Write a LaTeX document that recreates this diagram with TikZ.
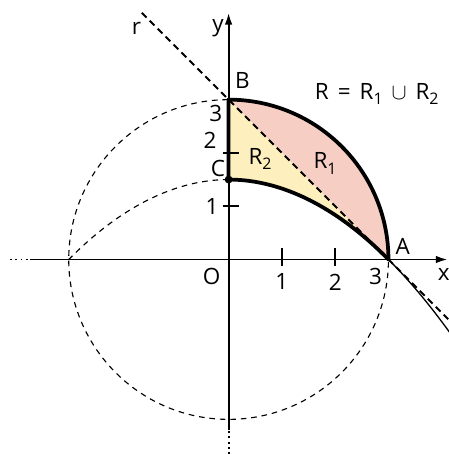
\documentclass[tikz,border=0pt]{standalone}
\usepackage{fontspec}
\setmainfont{Open Sans}
\usetikzlibrary{arrows.meta}
\definecolor{regionpink}{HTML}{F6CEC4}
\definecolor{regionyellow}{HTML}{FDF0BE}
\newcommand{\lowsub}[1]{\raisebox{-0.45ex}{\fontsize{8.5}{9}\selectfont #1}}
\newcommand{\opgap}{\hspace{0.4em}}

\begin{document}
\begin{tikzpicture}[
  every node/.style={font=\fontsize{12}{14}\selectfont, inner sep=0pt},
  axisline/.style={line width=1pt, -{Latex[length=2.2mm,width=1.4mm]}},
  axisend/.style={line width=1pt, dash pattern=on 1pt off 1.8pt},
  tickmark/.style={line width=0.8pt},
  guide/.style={line width=0.6pt, dash pattern=on 3pt off 2.6pt},
  chord/.style={line width=1.1pt, dash pattern=on 3.6pt off 2.4pt},
  border/.style={line width=2pt, line join=round, line cap=round},
  tail/.style={line width=0.7pt}
]
\useasboundingbox (-4.29,-3.65) rectangle (4.12,4.87);
\coordinate (O) at (0,0);
\coordinate (A) at (3,0);
\coordinate (B) at (0,3);
\coordinate (C) at (0,1.5);
\coordinate (xstart) at (-3.73,0);
\coordinate (xend) at (4.11,0);
\coordinate (ystart) at (0,-3.2);
\coordinate (yend) at (0,4.63);
\coordinate (rstart) at (-1.63,4.63);
\coordinate (rend) at (4.12,-1.12);

% regions R1 and R2
\fill[regionpink] (B) arc[start angle=90, end angle=0, radius=3] -- cycle;
\fill[regionyellow] (B) -- (C) parabola (A) -- cycle;

% circle and parabola guides
\draw[guide] (O) circle[radius=3];
\draw[guide] (C) parabola (-3,0);
\draw[tail] plot[domain=3:4.15, samples=20, smooth] (\x,{(9-\x*\x)/6});

% axes
\draw[axisline] (xstart) -- (xend);
\draw[axisend] (-4.1,0) -- (xstart);
\draw[axisline] (ystart) -- (yend);
\draw[axisend] (0,-3.65) -- (ystart);
\foreach \t in {1,2} {
  \draw[tickmark] (\t,-0.12) -- (\t,0.22);
  \draw[tickmark] (-0.11,\t) -- (0.19,\t);
}

% boundary of R
\draw[border] (C) -- (B) arc[start angle=90, end angle=0, radius=3];
\draw[border] (C) parabola (A);
\draw[chord] (rstart) -- (rend);
\fill (C) circle[radius=2.1pt];

% labels
\node (ylabel) at (-0.2,4.34) {y};
\node (xlabel) at (4.04,-0.29) {x};
\node (rlabel) at (-1.73,4.34) {r};
\node (blabel) at (0.26,3.36) {B};
\node (alabel) at (3.27,0.24) {A};
\node (clabel) at (-0.2,1.71) {C};
\node (olabel) at (-0.32,-0.31) {O};
\node (xone) at (1,-0.42) {1};
\node (xtwo) at (2,-0.42) {2};
\node (xthree) at (2.76,-0.31) {3};
\node (yone) at (-0.31,0.99) {1};
\node (ytwo) at (-0.35,2.24) {2};
\node (ythree) at (-0.24,2.74) {3};
\node (rtwo) at (0.59,1.89) {R\lowsub{2}};
\node (rone) at (1.81,1.8) {R\lowsub{1}};
\node (runion) at (2.78,3.11) {R\opgap=\opgap R\lowsub{1}\opgap$\cup$\opgap R\lowsub{2}};
\end{tikzpicture}
\end{document}
